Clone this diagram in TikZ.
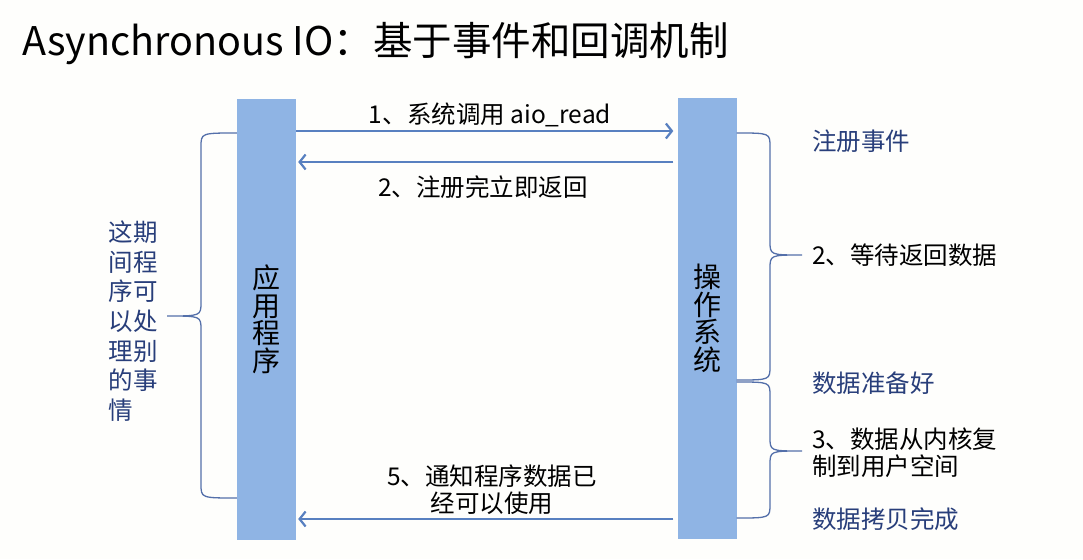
\documentclass[tikz,border=0pt]{standalone}
\usepackage{fontspec}
\setmainfont{Noto Sans CJK SC}
\usetikzlibrary{arrows.meta,calc}
\definecolor{barblue}{RGB}{143,180,228}
\definecolor{arrowblue}{RGB}{88,128,192}
\definecolor{braceblue}{RGB}{84,112,170}
\definecolor{labelblue}{RGB}{40,62,122}
\definecolor{bgcol}{RGB}{254,254,252}
\begin{document}
\begin{tikzpicture}[x=1pt,y=-1pt,
  bar/.style={fill=barblue, draw=none, minimum width=59pt, minimum height=441pt, inner sep=0pt, font=\fontsize{28}{27.5}\selectfont, align=center},
  msg/.style={draw=arrowblue, line width=2.2pt, -{Straight Barb[length=6pt,width=15pt]}},
  brc/.style={draw=braceblue, line width=1.3pt},
  txt/.style={inner sep=0pt, font=\fontsize{24.5}{27}\selectfont},
  lbl/.style={txt, align=left, anchor=west},
  note/.style={lbl, text=labelblue}]
\fill[bgcol] (0,0) rectangle (1083,559);
\useasboundingbox (0,0) rectangle (1083,559);
\node[anchor=west, inner sep=0pt, font=\fontsize{39.5}{40}\selectfont] (title) at (22,44) {Asynchronous IO：基于事件和回调机制};
\node[bar] (app) at (266.5,319.5) {应\\用\\程\\序};
\node[bar] (os) at (707,318.5) {操\\作\\系\\统};
% messages
\draw[msg, shorten >=4pt] (app.east |- 0,131) -- (os.west |- 0,131);
\draw[msg, shorten <=4pt, shorten >=2pt] (os.west |- 0,162) -- (app.east |- 0,162);
\draw[msg, shorten <=4pt, shorten >=2pt] (os.west |- 0,519) -- (app.east |- 0,519);
\node[txt] (m1) at (490,115) {1、系统调用 aio\_read};
\node[txt] (m2) at (483,187) {2、注册完立即返回};
\node[txt, align=center] (m5) at (492,490) {5、通知程序数据已\\经可以使用};
% right labels
\node[note] (n1) at (812,141) {注册事件};
\node[lbl] (n2) at (812,255) {2、等待返回数据};
\node[note] (n3) at (812,383) {数据准备好};
\node[lbl] (n4) at (812,453) {3、数据从内核复\\制到用户空间};
\node[note] (n5) at (812,519) {数据拷贝完成};
% left label
\node[txt, text=labelblue, align=left, font=\fontsize{24.5}{29.7}\selectfont] (side) at (133,321) {这期\\间程\\序可\\以处\\理别\\的事\\情};
% braces
\draw[brc] (app.west |- 0,133) .. controls (201,133) .. (201,147) -- (201,302) .. controls (201,316) .. (167,316) .. controls (201,316) .. (201,330) -- (201,484) .. controls (201,498) .. (app.west |- 0,498);
\draw[brc] (os.east |- 0,133) .. controls (770,133) .. (770,147) -- (770,241) .. controls (770,255) .. (802,255) .. controls (770,255) .. (770,269) -- (770,366) .. controls (770,380) .. (os.east |- 0,380);
\draw[brc] (os.east |- 0,382) .. controls (770,382) .. (770,396) -- (770,437) .. controls (770,451) .. (802,451) .. controls (770,451) .. (770,465) -- (770,504) .. controls (770,518) .. (os.east |- 0,518);
\end{tikzpicture}
\end{document}
